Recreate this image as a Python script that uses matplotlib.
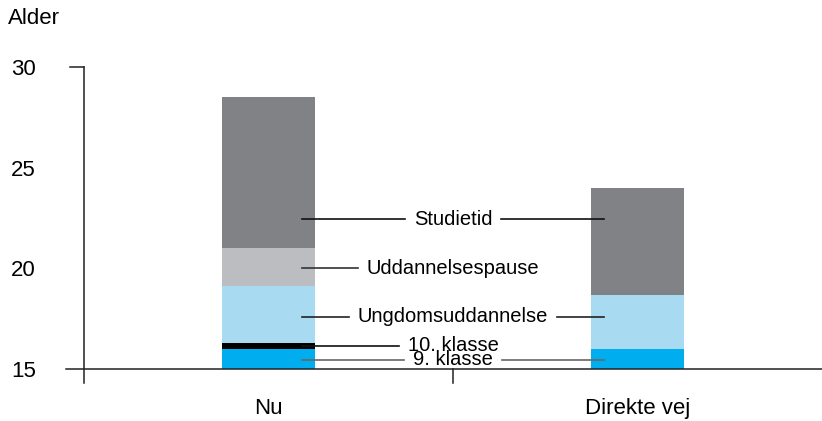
import matplotlib
matplotlib.use("Agg")
import matplotlib.pyplot as plt
import numpy as np

plt.rcParams['font.family'] = ['Liberation Sans', 'DejaVu Sans']

categories = ["Nu", "Direkte vej"]
segments = ["9. klasse", "10. klasse", "Ungdomsuddannelse", "Uddannelsespause", "Studietid"]
# years spent in each segment, starting from age 15
nu_values = [1.0, 0.3, 2.8, 1.9, 7.5]
direkte_values = [1.0, 0.0, 2.7, 0.0, 5.3]
base_age = 15
y_ticks = [15, 20, 25, 30]
y_label = "Alder"

colors = ["#00aeef", "#000000", "#a8daf2", "#bcbdc0", "#818285"]
label_y = [15.45, 16.15, 17.6, 20.0, 22.45]
line_colors = ["#666666", "#111111", "#222222", "#333333", "#111111"]

fig = plt.figure(figsize=(8.22, 4.21), dpi=100)
ax = fig.add_axes([84/822, 1-369/421, 738/822, (369-67)/421])
ax.set_xlim(0, 2)
ax.set_ylim(15, 30)

xpos = np.array([0.5, 1.5])
width = 0.25
vals = np.array([nu_values, direkte_values])
bottom = np.full(2, float(base_age))
for i, seg in enumerate(segments):
    h = vals[:, i]
    ax.bar(xpos, h, width, bottom=bottom, color=colors[i], linewidth=0, zorder=2)
    bottom = bottom + h

for s in ax.spines.values():
    s.set_visible(False)

axis_col = "#222222"
ax.plot([-18/738, 1], [0, 0], transform=ax.transAxes, color=axis_col, lw=1.1, clip_on=False, zorder=3)
ax.plot([0, 0], [1, -14/302], transform=ax.transAxes, color=axis_col, lw=1.1, clip_on=False, zorder=3)
ax.plot([-14/738, 0], [1, 1], transform=ax.transAxes, color=axis_col, lw=1.1, clip_on=False, zorder=3)
ax.plot([0.5, 0.5], [0, -14/302], transform=ax.transAxes, color=axis_col, lw=1.1, clip_on=False, zorder=3)

ax.set_yticks(y_ticks)
ax.set_yticklabels([str(t) for t in y_ticks], fontsize=16)
ax.tick_params(axis='y', length=0, pad=34.5)
ax.set_xticks(xpos)
ax.set_xticklabels(categories, fontsize=16)
ax.tick_params(axis='x', length=0, pad=21)

fig.text(8/822, 1-18/421, y_label, fontsize=16, va='center', ha='left')

fig.canvas.draw()
renderer = fig.canvas.get_renderer()
inv = ax.transData.inverted()
gap = 9
line_start = 0.59
line_end = 1.41
for i, seg in enumerate(segments):
    t = ax.text(1.0, label_y[i], seg, fontsize=14.5, ha='center', va='center', zorder=5)
    bb = t.get_window_extent(renderer)
    x0 = inv.transform((bb.x0 - gap, 0))[0]
    x1 = inv.transform((bb.x1 + gap, 0))[0]
    ax.plot([line_start, x0], [label_y[i], label_y[i]], color=line_colors[i], lw=1.2, zorder=4)
    if direkte_values[i] > 0:
        ax.plot([x1, line_end], [label_y[i], label_y[i]], color=line_colors[i], lw=1.2, zorder=4)

fig.savefig("out.png", dpi=100)
